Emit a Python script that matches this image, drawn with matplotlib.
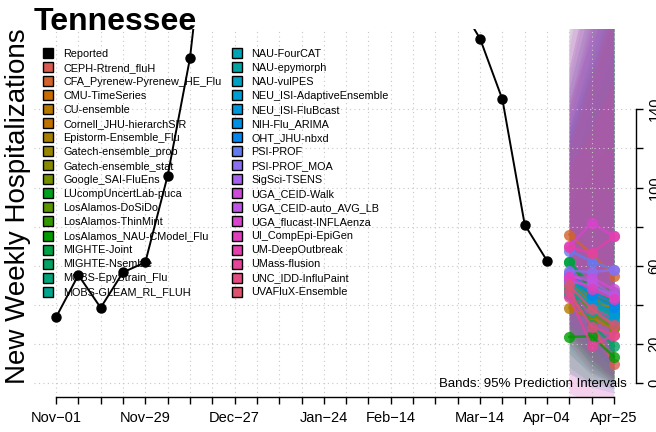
import numpy as np
import matplotlib
matplotlib.use("Agg")
import matplotlib.pyplot as plt
import matplotlib.dates as mdates
from matplotlib.lines import Line2D
from datetime import date, timedelta

plt.rcParams['font.family'] = ['Liberation Sans', 'DejaVu Sans']

# Reported weekly hospitalizations, Nov-01 .. Apr-04 (NaN = weeks above the top of the axes)
report_start = date(2025, 11, 1)
reported = [33.7, 55.3, 38.6, 56.7, 61.8, 106, 166, 266,
            np.nan, np.nan, np.nan, np.nan, np.nan, np.nan, np.nan, np.nan, np.nan, np.nan,
            195, 176, 145, 81, 62.6]

# forecast target weeks
fc_dates = [date(2026, 4, 11), date(2026, 4, 18), date(2026, 4, 25)]

models = ["CEPH-Rtrend_fluH", "CFA_Pyrenew-Pyrenew_HE_Flu", "CMU-TimeSeries", "CU-ensemble",
          "Cornell_JHU-hierarchSIR", "Epistorm-Ensemble_Flu", "Gatech-ensemble_prob",
          "Gatech-ensemble_stat", "Google_SAI-FluEns", "LUcompUncertLab-puca",
          "LosAlamos-DoSiDo", "LosAlamos-ThinMint", "LosAlamos_NAU-CModel_Flu", "MIGHTE-Joint",
          "MIGHTE-Nsemble", "MOBS-EpyStrain_Flu", "MOBS-GLEAM_RL_FLUH", "NAU-FourCAT",
          "NAU-epymorph", "NAU-vulPES", "NEU_ISI-AdaptiveEnsemble", "NEU_ISI-FluBcast",
          "NIH-Flu_ARIMA", "OHT_JHU-nbxd", "PSI-PROF", "PSI-PROF_MOA", "SigSci-TSENS",
          "UGA_CEID-Walk", "UGA_CEID-auto_AVG_LB", "UGA_flucast-INFLAenza", "UI_CompEpi-EpiGen",
          "UM-DeepOutbreak", "UMass-flusion", "UNC_IDD-InfluPaint", "UVAFluX-Ensemble"]

# median, 2.5% and 97.5% quantiles for the three horizons
median = [[45, 30, 10], [76, 66, 55], [50, 42, 36], [38.5, 33, 28], [48, 40, 34],
          [52, 44, 38], [49, 41, 35], [51, 43, 37], [47, 38, 31], [62, 47, 42],
          [50, 36, 28], [53, 45, 40], [23.7, 24, 13.5], [61.9, 50, 46.6], [48, 30, 19],
          [46, 40, 35], [52, 46, 45], [47, 39, 38], [45, 42, 40], [50, 40, 34],
          [51, 37, 32], [53, 42, 36], [56.3, 47, 41], [55, 45, 39], [67.8, 62.2, 58],
          [57.6, 56.8, 58], [52, 50, 44], [54, 54, 48], [55, 52, 45], [70, 82, 75],
          [54.2, 48, 43], [69.5, 66.6, 75], [44, 19.1, 24.6], [47, 29, 24.6], [50, 38, 30]]
lower = [[22, 10, 0], [45, 30, 18], [28, 15, 5], [15, 5, 0], [25, 12, 3],
         [30, 18, 8], [20, 8, 2], [27, 14, 4], [26, 13, 2], [8, 0, -3],
         [24, 10, 0], [28, 16, 6], [5, 0, 0], [35, 20, 10], [25, 8, 0],
         [22, 10, 2], [30, 20, 12], [18, 6, 0], [15, 4, 0], [26, 12, 2],
         [27, 13, 3], [29, 16, 6], [5, -2, -5], [30, 18, 8], [38, 28, 20],
         [32, 24, 16], [28, 18, 8], [-8, -12, -15], [25, 12, 2], [40, 35, 25],
         [30, 20, 10], [40, 30, 25], [-5, -10, -12], [20, 6, 0], [26, 12, 2]]
upper = [[90, 110, 125], [145, 175, 200], [110, 140, 170], [120, 155, 190], [130, 170, 215],
         [120, 150, 185], [140, 190, 240], [125, 160, 195], [115, 140, 165], [195, 260, 320],
         [130, 165, 200], [125, 160, 190], [105, 140, 170], [150, 195, 235], [120, 145, 170],
         [140, 180, 220], [160, 210, 260], [125, 155, 190], [130, 170, 210], [120, 145, 175],
         [128, 160, 195], [124, 155, 185], [130, 165, 200], [135, 180, 225], [150, 195, 240],
         [145, 185, 225], [155, 205, 255], [175, 240, 300], [170, 225, 280], [185, 265, 330],
         [140, 185, 230], [160, 210, 260], [110, 130, 155], [125, 160, 195], [120, 155, 190]]

tick_labels = {"Nov-01": date(2025, 11, 1), "Nov-29": date(2025, 11, 29),
               "Dec-27": date(2025, 12, 27), "Jan-24": date(2026, 1, 24),
               "Feb-14": date(2026, 2, 14), "Mar-14": date(2026, 3, 14),
               "Apr-04": date(2026, 4, 4), "Apr-25": date(2026, 4, 25)}


def hcl_color(h, c=100, l=55):
    # polar LUV -> sRGB (D65)
    xn, yn, zn = 95.047, 100.0, 108.883
    un = 4 * xn / (xn + 15 * yn + 3 * zn)
    vn = 9 * yn / (xn + 15 * yn + 3 * zn)
    u = c * np.cos(np.radians(h))
    v = c * np.sin(np.radians(h))
    y = yn * ((l + 16) / 116) ** 3
    up = u / (13 * l) + un
    vp = v / (13 * l) + vn
    x = 9 * y * up / (4 * vp)
    z = y * (12 - 3 * up - 20 * vp) / (4 * vp)
    m = np.array([[3.2404542, -1.5371385, -0.4985314],
                  [-0.9692660, 1.8760108, 0.0415560],
                  [0.0556434, -0.2040259, 1.0572252]])
    rgb = m @ (np.array([x, y, z]) / 100)
    rgb = np.clip(rgb, 0, None)
    rgb = np.where(rgb <= 0.0031308, 12.92 * rgb, 1.055 * rgb ** (1 / 2.4) - 0.055)
    return tuple(np.clip(rgb, 0, 1))


# hue palette assigned in case-insensitive name order
order = sorted(models, key=lambda s: s.lower())
n = len(models)
colors = {name: hcl_color(15 + 360 * i / n) for i, name in enumerate(order)}

rep_dates = [report_start + timedelta(weeks=i) for i in range(len(reported))]
week_ticks = [report_start + timedelta(weeks=i) for i in range(26)]

fig = plt.figure(figsize=(6.56, 4.32), dpi=100)
ax = fig.add_axes([0.0514, 0.081, 0.9186, 0.852])

# grid (drawn over the bands, under the lines)
for d in week_ticks:
    ax.axvline(d, color='#c8c8c8', linestyle=(0, (1, 3)), linewidth=0.8, zorder=1.5)
for yv in range(0, 141, 20):
    ax.axhline(yv, color='#c8c8c8', linestyle=(0, (1, 3)), linewidth=0.8, zorder=1.5)

# prediction bands
for i, name in enumerate(models):
    ax.fill_between(fc_dates, lower[i], upper[i], color=colors[name], alpha=0.13,
                    linewidth=0, zorder=1)

# forecast medians
for i, name in enumerate(models):
    ax.plot(fc_dates, median[i], color=colors[name], linewidth=1.8, marker='o',
            markersize=8, markeredgewidth=0, alpha=0.8, zorder=2)

# reported data
ax.plot(rep_dates, reported, color='black', linewidth=1.4, marker='o',
        markersize=6.5, zorder=3)

ax.set_xlim(date(2025, 10, 25), date(2026, 5, 2))
ax.set_ylim(-7, 181)

labels = []
for d in week_ticks:
    lab = ''
    for k, v in tick_labels.items():
        if v == d:
            lab = k.replace('-', '\u2212')
    labels.append(lab)
ax.set_xticks(week_ticks, labels=labels)
ax.tick_params(axis='x', length=5, width=1, labelsize=10.5, pad=5)

ax.yaxis.tick_right()
yt = list(range(0, 141, 20))
ax.set_yticks(yt, labels=[str(v) if v in (0, 20, 60, 100, 140) else '' for v in yt])
ax.tick_params(axis='y', length=5, width=1, labelsize=10.5, pad=3)
for t in ax.get_yticklabels():
    t.set_rotation(90)
    t.set_va('center')

for s in ['left', 'top']:
    ax.spines[s].set_visible(False)
ax.spines['bottom'].set_bounds(mdates.date2num(week_ticks[0]), mdates.date2num(week_ticks[-1]))
ax.spines['right'].set_bounds(0, 140)
ax.spines['bottom'].set_linewidth(1)
ax.spines['right'].set_linewidth(1)

ax.set_ylabel('New Weekly Hospitalizations', fontsize=20)
ax.yaxis.set_label_position('left')
ax.yaxis.set_label_coords(-0.004, 0.519)

fig.text(0.0514, 1 - 30.5 / 432, 'Tennessee', fontsize=23, fontweight='bold',
         va='baseline', ha='left')

ax.text(date(2026, 4, 29), -0.3, 'Bands: 95% Prediction Intervals', fontsize=9.5,
        ha='right', va='center', zorder=5)

handles = [Line2D([], [], marker='s', linestyle='none', markerfacecolor='black',
                  markeredgecolor='black', markersize=6.5)]
for name in models:
    handles.append(Line2D([], [], marker='s', linestyle='none', markerfacecolor=colors[name],
                          markeredgecolor='black', markeredgewidth=1, markersize=6.5))
ax.legend(handles, ['Reported'] + models, ncol=2, loc='upper left',
          bbox_to_anchor=(0.0154, 0.945), frameon=False, fontsize=7.8,
          borderpad=0, borderaxespad=0, handlelength=1.0, handletextpad=0.85,
          labelspacing=0.37, columnspacing=0.95)

fig.savefig('out.png', dpi=100)
